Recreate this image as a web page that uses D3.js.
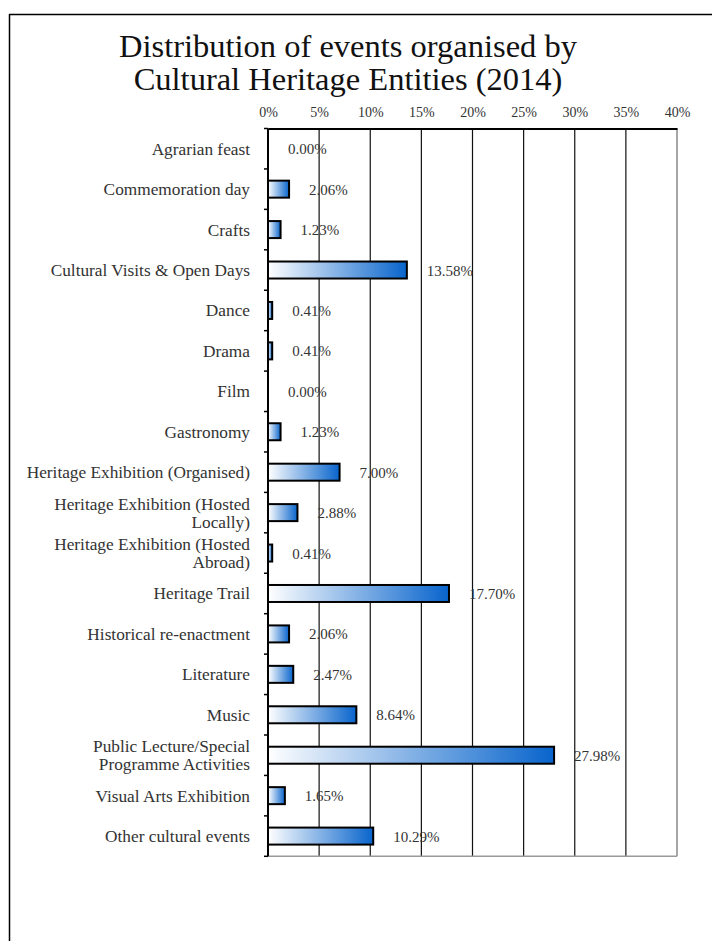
<!DOCTYPE html>
<html>
<head>
<meta charset="utf-8">
<script src="https://cdn.jsdelivr.net/npm/d3@7"></script>
<style>
  html, body { margin: 0; padding: 0; background: #fff; }
  svg { display: block; }
</style>
</head>
<body>
<svg id="chart" width="712" height="941"></svg>
<script>
// Event categories (each entry is a list of label lines) and their share of events
const categories = [
  ["Agrarian feast"],
  ["Commemoration day"],
  ["Crafts"],
  ["Cultural Visits & Open Days"],
  ["Dance"],
  ["Drama"],
  ["Film"],
  ["Gastronomy"],
  ["Heritage Exhibition (Organised)"],
  ["Heritage Exhibition (Hosted", "Locally)"],
  ["Heritage Exhibition (Hosted", "Abroad)"],
  ["Heritage Trail"],
  ["Historical re-enactment"],
  ["Literature"],
  ["Music"],
  ["Public Lecture/Special", "Programme Activities"],
  ["Visual Arts Exhibition"],
  ["Other cultural events"]
];
const shares = [0.00, 2.06, 1.23, 13.58, 0.41, 0.41, 0.00, 1.23, 7.00, 2.88, 0.41, 17.70, 2.06, 2.47, 8.64, 27.98, 1.65, 10.29];
const tickValues = [0, 5, 10, 15, 20, 25, 30, 35, 40];
const titleLines = ["Distribution of events organised by", "Cultural Heritage Entities (2014)"];

const svg = d3.select("#chart");
const font = "'Liberation Serif', 'DejaVu Serif', serif";

// page frame
svg.append("line").attr("x1", 9.5).attr("x2", 9.5).attr("y1", 14).attr("y2", 941)
  .attr("stroke", "#000").attr("stroke-width", 1.5);
svg.append("line").attr("x1", 9).attr("x2", 712).attr("y1", 14.5).attr("y2", 14.5)
  .attr("stroke", "#000").attr("stroke-width", 1.5);

// title
svg.append("text")
  .attr("x", 348).attr("y", 57)
  .attr("text-anchor", "middle")
  .attr("font-family", font).attr("font-size", 32.5).attr("fill", "#111")
  .selectAll("tspan").data(titleLines).join("tspan")
  .attr("x", 348).attr("dy", (d, i) => i === 0 ? 0 : 33)
  .text(d => d);

const plotLeft = 268, plotRight = 677, plotTop = 128.5, plotBottom = 856.3;

const x = d3.scaleLinear().domain([0, 40]).range([plotLeft, plotRight]);
const y = d3.scaleBand().domain(d3.range(categories.length)).range([plotTop, plotBottom]);

// gradient fill for bars
const defs = svg.append("defs");
const grad = defs.append("linearGradient").attr("id", "barGrad")
  .attr("x1", "0%").attr("x2", "100%").attr("y1", "0%").attr("y2", "0%");
grad.append("stop").attr("offset", "0%").attr("stop-color", "#ffffff");
grad.append("stop").attr("offset", "100%").attr("stop-color", "#0864cc");

// vertical gridlines
svg.append("g").selectAll("line").data(tickValues.slice(1)).join("line")
  .attr("x1", d => x(d)).attr("x2", d => x(d))
  .attr("y1", plotTop).attr("y2", plotBottom)
  .attr("stroke", d => d === 40 ? "#888" : "#111")
  .attr("stroke-width", d => d === 40 ? 1.5 : 1.2);

// bottom edge of plot
svg.append("line").attr("x1", plotLeft).attr("x2", plotRight).attr("y1", plotBottom).attr("y2", plotBottom)
  .attr("stroke", "#999").attr("stroke-width", 1.5);

// top axis
const xAxis = d3.axisTop(x).tickValues(tickValues).tickFormat(d => d + "%").tickSize(0).tickPadding(12);
const gx = svg.append("g").attr("transform", `translate(0,${plotTop})`).call(xAxis);
gx.select(".domain").attr("stroke", "#000").attr("stroke-width", 2);
gx.selectAll("text").attr("font-family", font).attr("font-size", 14).attr("fill", "#333");

// left axis with ticks at category boundaries
svg.append("line").attr("x1", plotLeft).attr("x2", plotLeft).attr("y1", plotTop).attr("y2", plotBottom)
  .attr("stroke", "#000").attr("stroke-width", 2);
svg.append("g").selectAll("line").data(d3.range(categories.length + 1)).join("line")
  .attr("x1", plotLeft - 4).attr("x2", plotLeft)
  .attr("y1", i => plotTop + i * y.step()).attr("y2", i => plotTop + i * y.step())
  .attr("stroke", "#000").attr("stroke-width", 1.5);

// category labels
const labels = svg.append("g").selectAll("text").data(categories).join("text")
  .attr("text-anchor", "end")
  .attr("font-family", font).attr("font-size", 17.3).attr("fill", "#333")
  .attr("transform", (d, i) => `translate(${plotLeft - 18},${y(i) + y.bandwidth() / 2})`);
labels.selectAll("tspan").data(d => d.map((t, j) => ({ t, j, n: d.length }))).join("tspan")
  .attr("x", 0)
  .attr("y", d => (d.j - (d.n - 1) / 2) * 18 + 6)
  .text(d => d.t);

// bars
const barH = 17;
svg.append("g").selectAll("rect").data(shares.map((v, i) => ({ v, i })).filter(d => d.v > 0)).join("rect")
  .attr("x", x(0))
  .attr("y", d => y(d.i) + y.bandwidth() / 2 - barH / 2)
  .attr("width", d => x(d.v) - x(0))
  .attr("height", barH)
  .attr("fill", "url(#barGrad)")
  .attr("stroke", "#000").attr("stroke-width", 2);

// value labels
svg.append("g").selectAll("text").data(shares).join("text")
  .attr("x", d => x(d) + 20)
  .attr("y", (d, i) => y(i) + y.bandwidth() / 2 + 5.5)
  .attr("font-family", font).attr("font-size", 15).attr("fill", "#333")
  .text(d => d.toFixed(2) + "%");
</script>
</body>
</html>
